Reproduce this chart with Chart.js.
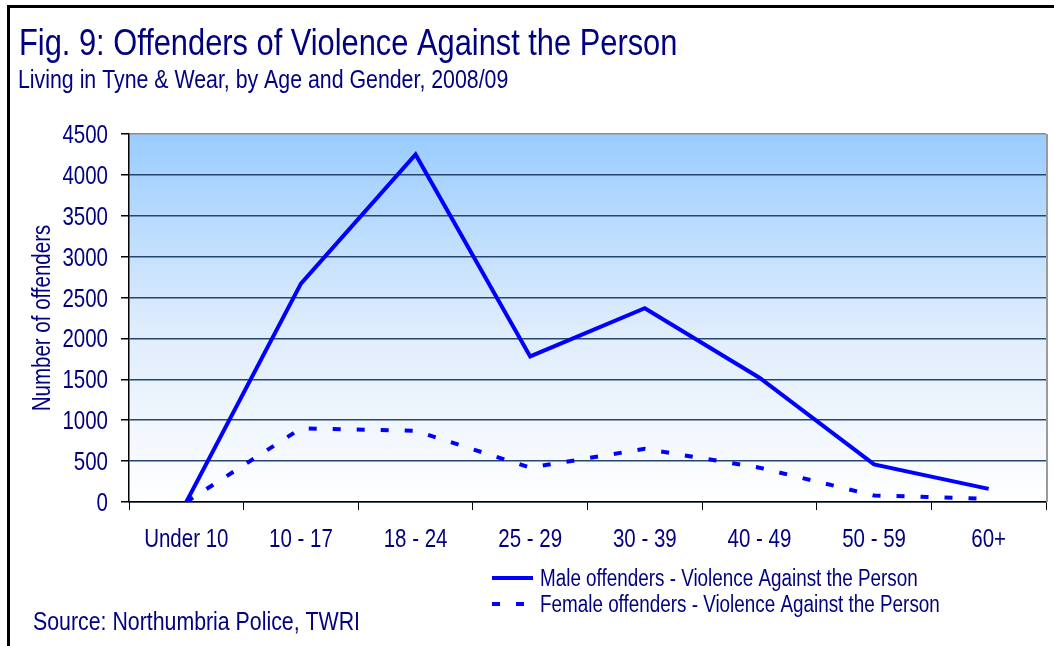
<!DOCTYPE html>
<html>
<head>
<meta charset="utf-8">
<script src="https://cdn.jsdelivr.net/npm/chart.js@4.4.1/dist/chart.umd.min.js"></script>
<style>
  html, body { margin: 0; padding: 0; background: #fff; }
  #wrap { position: relative; width: 1054px; height: 646px; }
  canvas { display: block; }
</style>
</head>
<body>
<div id="wrap"><canvas id="c" width="1054" height="646"></canvas></div>
<script>
const titleText = 'Fig. 9: Offenders of Violence Against the Person';
const subtitleText = 'Living in Tyne & Wear, by Age and Gender, 2008/09';
const yAxisTitle = 'Number of offenders';
const sourceText = 'Source: Northumbria Police, TWRI';

const categories = ['Under 10', '10 - 17', '18 - 24', '25 - 29', '30 - 39', '40 - 49', '50 - 59', '60+'];
const maleLabel = 'Male offenders - Violence Against the Person';
const femaleLabel = 'Female offenders - Violence Against the Person';
const maleValues = [0, 2670, 4250, 1780, 2370, 1520, 460, 160];
const femaleValues = [0, 900, 870, 420, 650, 420, 80, 40];
const yMin = 0;
const yMax = 4500;
const yStep = 500;

const FONT = "'Liberation Sans', Arial, sans-serif";
const NAVY = '#000080';
const NARROW = 0.82; // condensed look of the original face

// draw condensed text with an alphabetic baseline
function narrowText(ctx, text, x, y, size, align, rotate) {
  ctx.save();
  ctx.translate(x, y);
  if (rotate) ctx.rotate(rotate);
  ctx.scale(NARROW, 1);
  ctx.font = size + 'px ' + FONT;
  ctx.fillStyle = NAVY;
  ctx.textAlign = align || 'left';
  ctx.textBaseline = 'alphabetic';
  ctx.fillText(text, 0, 0);
  ctx.restore();
}

const decorPlugin = {
  id: 'decor',
  beforeDraw(chart) {
    const ctx = chart.ctx;
    const a = chart.chartArea;
    ctx.save();
    ctx.fillStyle = '#ffffff';
    ctx.fillRect(0, 0, chart.width, chart.height);
    // outer frame
    ctx.fillStyle = '#000000';
    ctx.fillRect(7, 5, 3, chart.height - 5);
    ctx.fillRect(7, 5, chart.width - 7, 3);
    // plot background gradient
    const g = ctx.createLinearGradient(0, a.top, 0, a.bottom);
    g.addColorStop(0, '#99CCFF');
    g.addColorStop(0.5, '#DCEBFC');
    g.addColorStop(1, '#FFFFFF');
    ctx.fillStyle = g;
    ctx.fillRect(a.left, a.top, a.right - a.left, a.bottom - a.top);
    ctx.restore();
    // titles
    narrowText(ctx, titleText, 19, 55, 37.6);
    narrowText(ctx, subtitleText, 18, 88, 26);
    narrowText(ctx, sourceText, 33, 630, 26);
    narrowText(ctx, yAxisTitle, 50, (a.top + a.bottom) / 2, 25, 'center', -Math.PI / 2);
  },
  afterDraw(chart) {
    const ctx = chart.ctx;
    const a = chart.chartArea;
    // tick labels from the library's scales
    const xs = chart.scales.x;
    xs.ticks.forEach((t, i) => {
      narrowText(ctx, String(xs.getLabelForValue(t.value)), xs.getPixelForTick(i), 547, 25, 'center');
    });
    const ys = chart.scales.y;
    ys.ticks.forEach((t, i) => {
      narrowText(ctx, String(t.value), a.left - 21, ys.getPixelForTick(i) + 9, 25, 'right');
    });
    ctx.save();
    // right plot border (gray)
    ctx.strokeStyle = '#9A9A9A';
    ctx.lineWidth = 2;
    ctx.beginPath();
    ctx.moveTo(a.right + 1, a.top);
    ctx.lineTo(a.right + 1, a.bottom);
    ctx.stroke();
    ctx.restore();
    // legend
    const rows = [578, 604];
    chart.data.datasets.forEach((ds, i) => {
      const y = rows[i];
      ctx.save();
      ctx.strokeStyle = ds.borderColor;
      ctx.lineWidth = ds.borderWidth;
      ctx.setLineDash(ds.borderDash || []);
      ctx.beginPath();
      ctx.moveTo(492, y);
      ctx.lineTo(533, y);
      ctx.stroke();
      ctx.restore();
      narrowText(ctx, ds.label, 540, y + 8, 23);
    });
  }
};

new Chart(document.getElementById('c'), {
  type: 'line',
  data: {
    labels: categories,
    datasets: [
      {
        label: maleLabel,
        data: maleValues,
        borderColor: '#0000FF',
        borderWidth: 4,
        pointRadius: 0,
        tension: 0,
        fill: false
      },
      {
        label: femaleLabel,
        data: femaleValues,
        borderColor: '#0000FF',
        borderWidth: 4,
        borderDash: [8, 16],
        borderCapStyle: 'butt',
        pointRadius: 0,
        tension: 0,
        fill: false
      }
    ]
  },
  options: {
    responsive: false,
    animation: false,
    devicePixelRatio: 1,
    layout: { padding: { left: 0, top: 134, right: 8, bottom: 0 } },
    plugins: {
      legend: { display: false },
      title: { display: false },
      tooltip: { enabled: false }
    },
    scales: {
      x: {
        type: 'category',
        offset: true,
        grid: {
          offset: true,
          drawOnChartArea: false,
          drawTicks: true,
          tickLength: 8,
          tickColor: '#000000',
          lineWidth: 1
        },
        border: { display: true, color: '#000000', width: 1.5 },
        ticks: { display: false, autoSkip: false, maxRotation: 0 },
        afterFit(scale) { scale.height = 144; }
      },
      y: {
        min: yMin,
        max: yMax,
        grid: {
          color: (c) => (c.tick && c.tick.value === yMax) ? '#8C8C8C' : '#24466F',
          lineWidth: 1.5,
          tickLength: 8,
          tickColor: '#000000'
        },
        border: { display: true, color: '#000000', width: 1.5 },
        ticks: { display: false, stepSize: yStep },
        afterFit(scale) { scale.width = 129; }
      }
    }
  },
  plugins: [decorPlugin]
});
</script>
</body>
</html>
